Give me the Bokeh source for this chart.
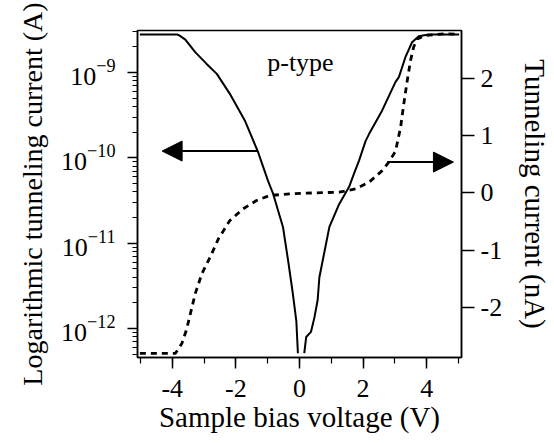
from bokeh.plotting import figure
from bokeh.models import (Range1d, LinearAxis, FixedTicker, SingleIntervalTicker,
                          LogTicker, Arrow, NormalHead, Label, LinearScale)
from bokeh.embed import file_html
from bokeh.resources import INLINE

# ---- data ----
# logarithmic tunneling current (A), negative-bias branch
bias_log_neg = [-5.02, -3.85, -3.78, -3.59, -3.28, -2.92, -2.60, -2.19, -1.72, -1.30,
                -0.99, -0.83, -0.52, -0.36, -0.21, -0.10, -0.05]
current_log_neg = [2.79e-9, 2.79e-9, 2.72e-9, 2.43e-9, 1.73e-9, 1.26e-9, 9.64e-10, 5.62e-10,
                   2.74e-10, 1.16e-10, 5.37e-11, 3.80e-11, 1.55e-11, 6.31e-12, 2.57e-12,
                   1.23e-12, 5.13e-13]
# logarithmic tunneling current (A), positive-bias branch
bias_log_pos = [0.15, 0.21, 0.36, 0.47, 0.57, 0.625, 0.94, 1.25, 1.56, 1.72, 1.875, 2.08,
                2.19, 2.60, 3.02, 3.125, 3.33, 3.54, 3.75, 4.06, 5.02]
current_log_pos = [5.13e-13, 7.94e-13, 9.12e-13, 1.35e-12, 2.14e-12, 3.98e-12, 1.55e-11,
                   2.88e-11, 4.57e-11, 6.61e-11, 9.33e-11, 1.58e-10, 1.91e-10, 3.59e-10,
                   7.76e-10, 8.81e-10, 1.51e-9, 2.26e-9, 2.66e-9, 2.79e-9, 2.79e-9]
# linear tunneling current (nA)
bias_lin = [-5.02, -3.90, -3.70, -3.56, -3.47, -3.28, -3.07, -2.81, -2.55, -2.19, -1.77,
            -1.35, -0.94, -0.31, 0.52, 1.25, 1.77, 2.19, 2.60, 2.81, 3.02, 3.18, 3.28,
            3.39, 3.49, 3.59, 3.70, 3.95, 4.58, 5.02]
current_nA = [-2.80, -2.80, -2.63, -2.40, -2.20, -1.76, -1.41, -1.12, -0.80, -0.48, -0.276,
              -0.13, -0.044, -0.015, 0.003, 0.014, 0.073, 0.19, 0.39, 0.54, 0.73, 1.15, 1.56,
              1.97, 2.31, 2.55, 2.69, 2.75, 2.78, 2.77]

x_ticks = [-4, -2, 0, 2, 4]
x_tick_labels = ["-4", "-2", "0", "2", "4"]
right_ticks = [-2, -1, 0, 1, 2]
right_tick_labels = ["-2", "-1", "0", "1", "2"]

# annotation positions (x_start, x_end, y)
left_arrow = (-1.30, -4.32, 1.20e-10)
right_arrow = (2.76, 4.84, 0.54)
title_pos = (0.03, 1.32e-9)

FONT = "Liberation Serif"

p = figure(width=554, height=443,
           x_range=Range1d(-5.094, 5.094),
           y_range=Range1d(10 ** -12.34, 10 ** -8.508),
           y_axis_type="log",
           output_backend="svg", toolbar_location=None,
           min_border_left=137, min_border_right=91,
           min_border_top=30, min_border_bottom=86,
           background_fill_color="white", border_fill_color="white")
p.grid.visible = False
p.outline_line_color = "black"
p.outline_line_width = 1.5

p.extra_y_ranges = {"nA": Range1d(-2.873, 2.838)}
p.extra_y_scales = {"nA": LinearScale()}


def style_axis(ax, major_out, minor_out, lab_standoff, axlab_standoff, axlab_size):
    ax.axis_line_color = "black"
    ax.axis_line_width = 1.5
    ax.major_tick_line_color = "black"
    ax.major_tick_line_width = 1.5
    ax.minor_tick_line_color = "black"
    ax.minor_tick_line_width = 1.2
    ax.major_tick_in = 0
    ax.major_tick_out = major_out
    ax.minor_tick_in = 0
    ax.minor_tick_out = minor_out
    ax.major_label_text_font = FONT
    ax.major_label_text_font_size = "26px"
    ax.major_label_text_color = "black"
    ax.major_label_standoff = lab_standoff
    ax.axis_label_text_font = FONT
    ax.axis_label_text_font_size = axlab_size
    ax.axis_label_text_font_style = "normal"
    ax.axis_label_text_color = "black"
    ax.axis_label_standoff = axlab_standoff


# bottom axis
xa = p.xaxis[0]
xa.ticker = SingleIntervalTicker(interval=2, num_minor_ticks=2)
xa.major_label_overrides = {t: s for t, s in zip(x_ticks, x_tick_labels)}
xa.axis_label = "Sample bias voltage (V)"
style_axis(xa, 11, 6, 11, 1, "29px")

# left log axis
ya = p.yaxis[0]
ya.ticker = LogTicker(num_minor_ticks=10, desired_num_ticks=4)
ya.axis_label = "Logarithmic tunneling current (A)"
style_axis(ya, 10, 5, 12, 10, "28px")

# right linear axis
ra = LinearAxis(y_range_name="nA", ticker=FixedTicker(ticks=right_ticks))
ra.major_label_overrides = {t: s for t, s in zip(right_ticks, right_tick_labels)}
ra.axis_label = "Tunneling current (nA)"
style_axis(ra, 13, 0, 6, 14, "29px")
p.add_layout(ra, "right")

# curves
p.line(bias_log_neg, current_log_neg, line_color="black", line_width=2)
p.line(bias_log_pos, current_log_pos, line_color="black", line_width=2)
p.line(bias_lin, current_nA, y_range_name="nA", line_color="black",
       line_width=2.8, line_dash="6 5")

# arrows
p.add_layout(Arrow(end=NormalHead(size=20, fill_color="black", line_color="black"),
                   x_start=left_arrow[0], x_end=left_arrow[1],
                   y_start=left_arrow[2], y_end=left_arrow[2],
                   line_color="black", line_width=2))
p.add_layout(Arrow(end=NormalHead(size=20, fill_color="black", line_color="black"),
                   x_start=right_arrow[0], x_end=right_arrow[1],
                   y_start=right_arrow[2], y_end=right_arrow[2],
                   y_range_name="nA", line_color="black", line_width=2))

p.add_layout(Label(x=title_pos[0], y=title_pos[1], text="p-type", text_align="center",
                   text_baseline="alphabetic", text_font=FONT, text_font_size="26px",
                   text_color="black"))

open("out.html", "w").write(file_html(p, INLINE))
